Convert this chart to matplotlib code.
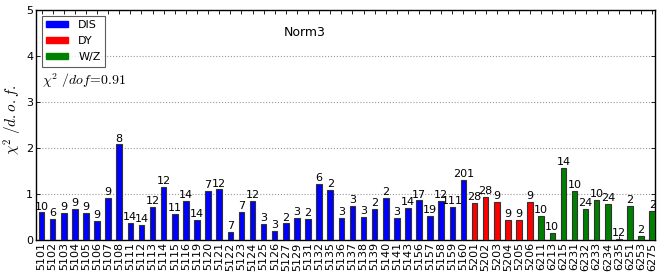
import matplotlib
matplotlib.use("Agg")
import matplotlib.pyplot as plt
import numpy as np
from matplotlib.patches import Patch

plt.rcParams['mathtext.fontset'] = 'cm'

dis_names = ["5101","5102","5103","5104","5105","5106","5107","5108","5111","5112",
             "5113","5114","5115","5116","5119","5120","5121","5122","5123","5124",
             "5125","5126","5127","5129","5131","5132","5135","5136","5137","5138",
             "5139","5140","5141","5143","5156","5157","5158","5159","5160"]
dis_vals = [0.59,0.45,0.58,0.66,0.58,0.40,0.90,2.07,0.37,0.31,
            0.70,1.14,0.55,0.83,0.42,1.05,1.09,0.16,0.61,0.84,
            0.33,0.18,0.35,0.47,0.45,1.21,1.08,0.47,0.73,0.50,
            0.66,0.90,0.47,0.68,0.85,0.52,0.83,0.71,1.29]
dis_npts = [10,6,9,9,9,9,9,8,14,14,12,12,11,14,14,7,12,7,7,12,
            3,3,2,3,2,6,2,3,3,3,2,2,3,14,17,19,12,111,201]

dy_names = ["5201","5202","5203","5204","5205","5206"]
dy_vals = [0.80,0.92,0.82,0.42,0.42,0.82]
dy_npts = [28,28,9,9,9,9]

wz_names = ["6211","6213","6215","6231","6232","6233","6234","6235","6251","6253","6275"]
wz_vals = [0.51,0.14,1.55,1.05,0.67,0.87,0.77,0.02,0.74,0.08,0.62]
wz_npts = [10,10,14,10,24,10,24,12,2,2,2]

chi2_total = 0.91
title_text = "Norm3"

fig = plt.figure(figsize=(6.64, 2.72), dpi=100)
ax = fig.add_axes([36/664, 1-239.5/272, 619/664, 229.5/272])

names = dis_names + dy_names + wz_names
vals = dis_vals + dy_vals + wz_vals
npts = dis_npts + dy_npts + wz_npts
colors = ['#0000ff']*len(dis_names) + ['#ff0000']*len(dy_names) + ['#008000']*len(wz_names)
x = np.arange(len(names))

ax.bar(x, vals, width=0.5, color=colors, edgecolor='#333333', linewidth=0.8, zorder=3)
for xi, v, n in zip(x, vals, npts):
    ax.text(xi, v + 0.02, str(n), ha='center', va='bottom', fontsize=8, zorder=4)

ax.set_xlim(-0.5, len(names) - 0.75)
ax.set_ylim(0, 5)
ax.set_yticks([0, 1, 2, 3, 4, 5])
ax.set_xticks(x)
ax.set_xticklabels(names, rotation=90, fontsize=8)
ax.tick_params(axis='y', labelsize=8, pad=2)
ax.tick_params(direction='in', top=True, right=True, length=3, width=0.6)
ax.tick_params(axis='x', pad=2)
ax.yaxis.grid(True, linestyle=':', color='#999999', linewidth=0.8, zorder=0)
for s in ax.spines.values():
    s.set_linewidth(1.0)

ax.set_ylabel(r'$\chi^2\ /d.o.f.$', fontsize=11)
ax.yaxis.set_label_coords(-0.02, 0.52)

handles = [Patch(facecolor='#0000ff', edgecolor='#0000ff', label='DIS'),
           Patch(facecolor='#ff0000', edgecolor='#ff0000', label='DY'),
           Patch(facecolor='#008000', edgecolor='#008000', label='W/Z')]
leg = ax.legend(handles=handles, loc='upper left', fontsize=8, frameon=True,
                fancybox=False, edgecolor='#333333', handlelength=2.0, handleheight=0.5,
                handletextpad=0.9, borderaxespad=0.5, labelspacing=0.55, borderpad=0.4)
leg.get_frame().set_linewidth(0.8)

ax.text(0.40, 0.90, title_text, transform=ax.transAxes, fontsize=9, ha='left', va='center')
ax.text(0.018, 3.45, r'$\chi^2\ /dof\!=\!%.2f$' % chi2_total, fontsize=10, ha='left', va='center')

fig.savefig('out.png', dpi=100)
